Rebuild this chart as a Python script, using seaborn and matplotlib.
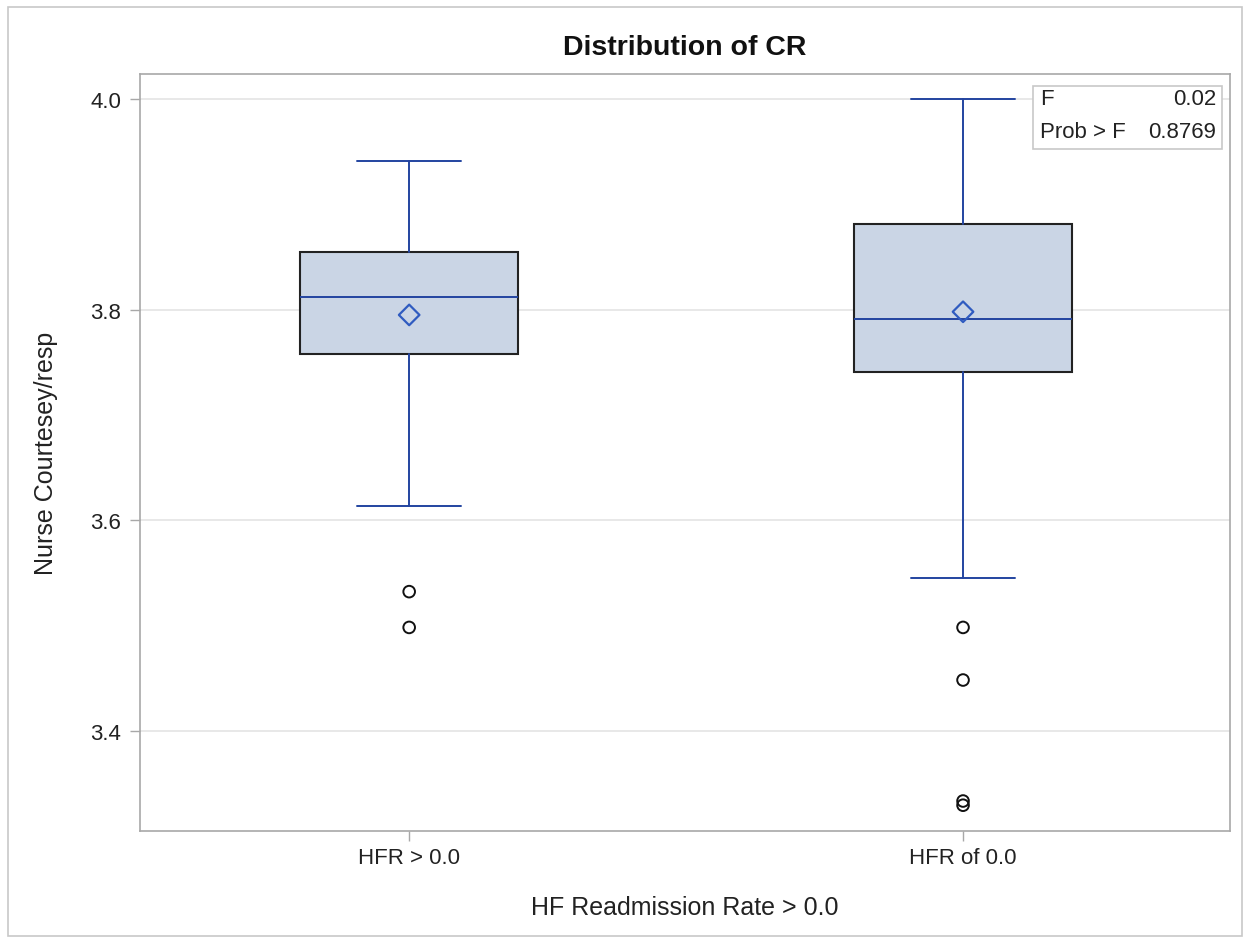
import matplotlib
matplotlib.use("Agg")
import matplotlib.pyplot as plt
import seaborn as sns
import pandas as pd
from matplotlib.patches import Rectangle

# ---- data ----
categories = ["HFR > 0.0", "HFR of 0.0"]
whisker_low = [3.613, 3.545]
q1 = [3.758, 3.741]
median = [3.812, 3.791]
q3 = [3.855, 3.881]
whisker_high = [3.941, 4.000]
means = [3.795, 3.798]
outliers = [[3.532, 3.498], [3.498, 3.448, 3.333, 3.329]]
yticks = [3.4, 3.6, 3.8, 4.0]
f_value = "0.02"
prob_f = "0.8769"

sns.set_theme(style="white")
plt.rcParams["font.family"] = ["Liberation Sans", "DejaVu Sans"]

W, H = 1250, 945
fig = plt.figure(figsize=(12.5, 9.45), dpi=100)
ax = fig.add_axes([140 / W, 1 - 832 / H, 1090 / W, 757 / H])

blue = "#2344A0"
fill = "#CAD5E5"

stats = []
for i, c in enumerate(categories):
    stats.append(dict(label=c, whislo=whisker_low[i], q1=q1[i], med=median[i],
                      q3=q3[i], whishi=whisker_high[i], mean=means[i], fliers=[]))

ax.bxp(stats, positions=[0, 1], widths=0.394, patch_artist=True, showfliers=False,
       showmeans=False,
       boxprops=dict(facecolor=fill, edgecolor="#222222", linewidth=1.5),
       medianprops=dict(color=blue, linewidth=1.4),
       whiskerprops=dict(color=blue, linewidth=1.4),
       capprops=dict(color=blue, linewidth=1.4), capwidths=0.188, zorder=3)

out_df = pd.DataFrame([(i, v) for i, vals in enumerate(outliers) for v in vals],
                      columns=["pos", "value"])
sns.scatterplot(data=out_df, x="pos", y="value", ax=ax, marker="o", s=70,
                facecolor="none", edgecolor="#111111", linewidth=1.4, zorder=4)
mean_df = pd.DataFrame({"pos": [0, 1], "value": means})
sns.scatterplot(data=mean_df, x="pos", y="value", ax=ax, marker="D", s=110,
                facecolor="none", edgecolor="#2F5BC0", linewidth=1.6, zorder=5)

ax.set_xlim(-0.486, 1.482)
ax.set_ylim(3.3045, 4.024)
ax.set_xticks([0, 1])
ax.set_xticklabels(categories)
ax.set_yticks(yticks)
ax.set_yticklabels([f"{t:.1f}" for t in yticks])
ax.yaxis.grid(True, color="#E4E4E4", linewidth=1.2, zorder=0)
ax.xaxis.grid(False)
ax.set_axisbelow(True)
for s in ax.spines.values():
    s.set_color("#A8A8A8")
    s.set_linewidth(1.2)
ax.tick_params(axis="both", which="both", length=7.5, width=1, color="#A8A8A8",
               labelsize=16, labelcolor="#222222")
ax.tick_params(axis="y", left=True, pad=6)
ax.tick_params(axis="x", bottom=True, pad=4)

ax.set_xlabel("HF Readmission Rate > 0.0", fontsize=18, color="#222222")
ax.set_ylabel("Nurse Courtesey/resp", fontsize=18, color="#222222")
ax.xaxis.set_label_coords(0.5, -0.085)
ax.yaxis.set_label_coords(-0.075, 0.5)

fig.text(685 / W, 1 - 55 / H, "Distribution of CR", fontsize=20.5, fontweight="bold",
         color="#111111", ha="center", va="baseline")

# inset statistics table
x0, y0, w, h = 1033 / W, 1 - 150 / H, 189 / W, 63 / H
fig.add_artist(Rectangle((x0, y0), w, h, transform=fig.transFigure, facecolor="white",
                         edgecolor="#C8C8C8", linewidth=1.2, zorder=10))
fig.text(x0 + 7 / W, 1 - 105 / H, "F", fontsize=16, va="baseline", ha="left", zorder=11,
         color="#222222")
fig.text(x0 + w - 6 / W, 1 - 105 / H, f_value, fontsize=16, va="baseline", ha="right",
         zorder=11, color="#222222")
fig.text(x0 + 7 / W, 1 - 138 / H, "Prob > F", fontsize=16, va="baseline", ha="left",
         zorder=11, color="#222222")
fig.text(x0 + w - 6 / W, 1 - 138 / H, prob_f, fontsize=16, va="baseline", ha="right",
         zorder=11, color="#222222")

# outer figure border
fig.add_artist(Rectangle((8 / W, 8 / H), 1234 / W, 929 / H,
                         transform=fig.transFigure, facecolor="none",
                         edgecolor="#C8C8C8", linewidth=1.2))

fig.savefig("out.png", dpi=100)
